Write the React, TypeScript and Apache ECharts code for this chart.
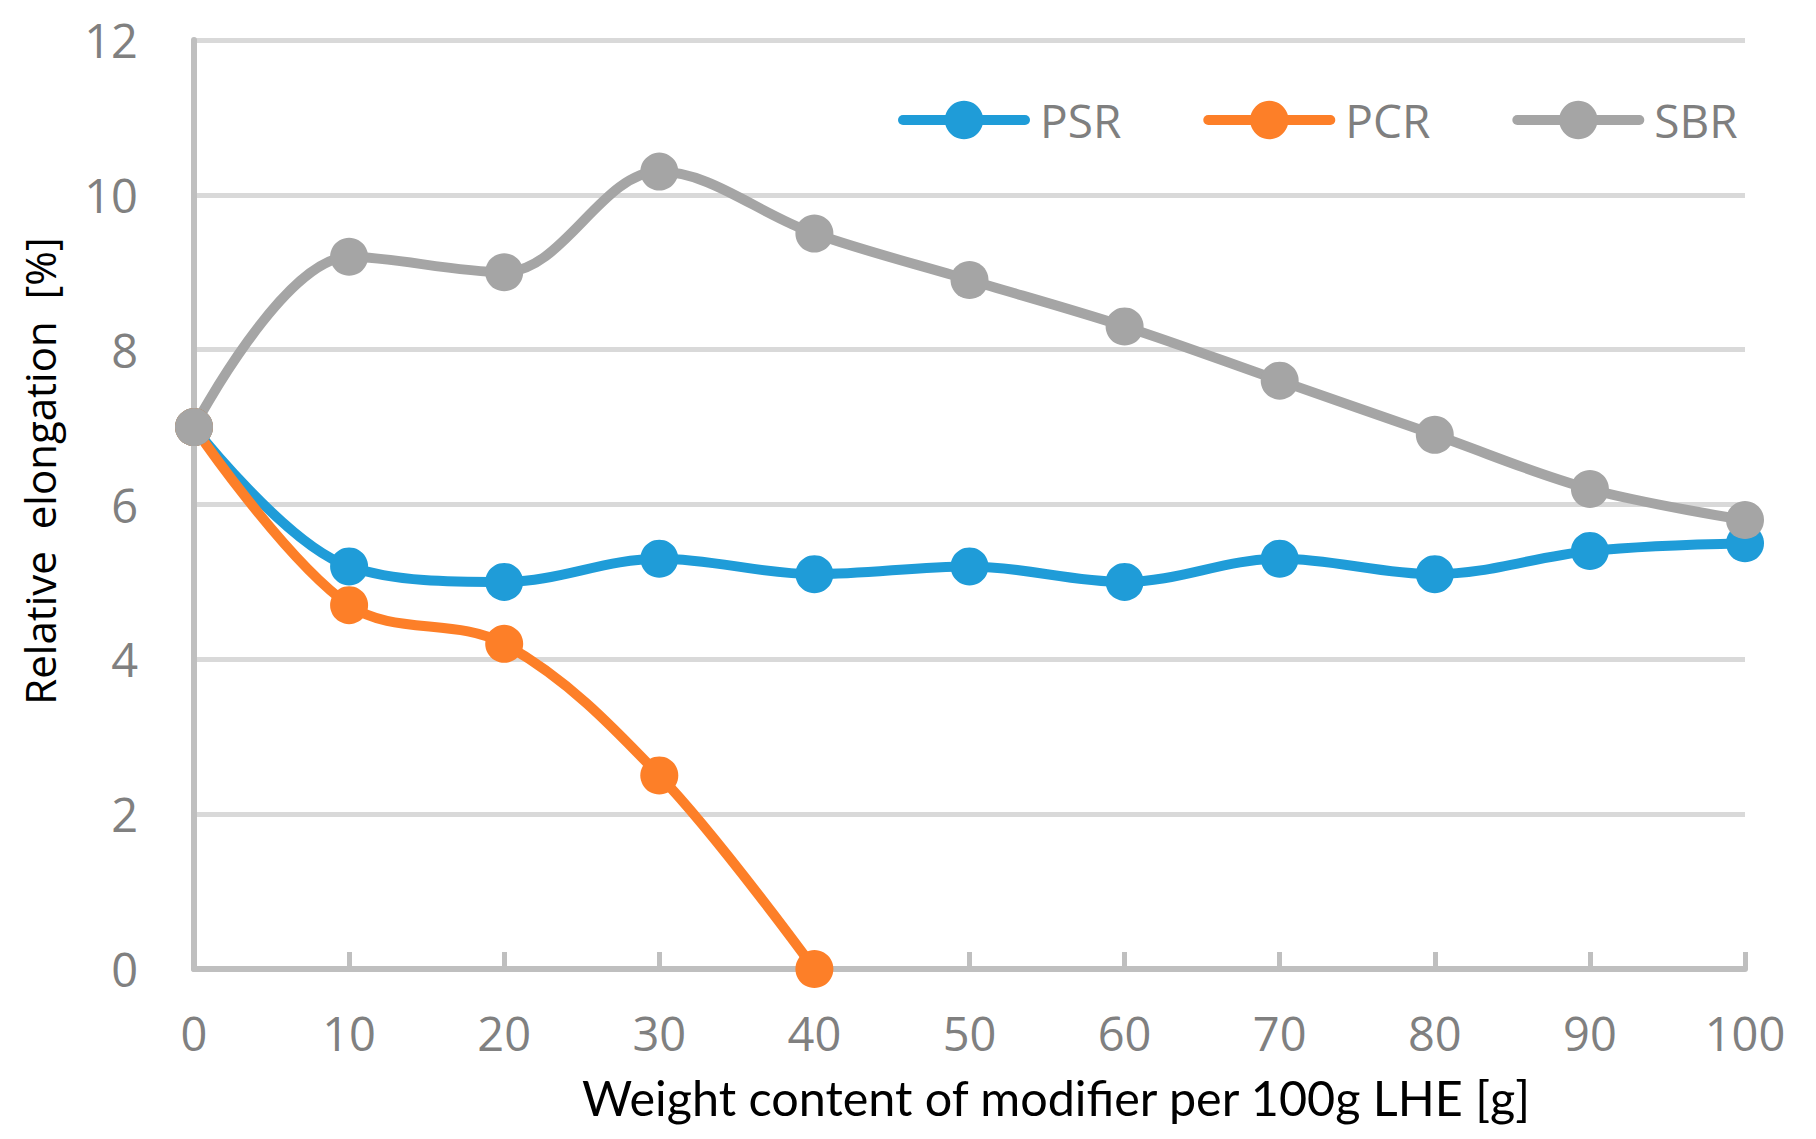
import React, { useEffect, useRef } from "react";
import * as echarts from "echarts";

const xValues = [0, 10, 20, 30, 40, 50, 60, 70, 80, 90, 100];
const psr = [7.0, 5.2, 5.0, 5.3, 5.1, 5.2, 5.0, 5.3, 5.1, 5.4, 5.5];
const pcr = [7.0, 4.7, 4.2, 2.5, 0.0];
const sbr = [7.0, 9.2, 9.0, 10.3, 9.5, 8.9, 8.3, 7.6, 6.9, 6.2, 5.8];
const seriesNames = ["PSR", "PCR", "SBR"];
const xTitle = "Weight content of modifier per 100g LHE [g]";
const yTitle = "Relative  elongation  [%]";

const colors = ["#1F9CD8", "#FD7F28", "#A5A5A5"];

export default function App() {
  const ref = useRef<HTMLDivElement>(null);
  useEffect(() => {
    if (!ref.current) return;
    const chart = echarts.init(ref.current, undefined, { renderer: "svg" });
    const mk = (name: string, vals: number[], color: string) => ({
      name,
      type: "line",
      data: vals.map((v, i) => [xValues[i], v]),
      smooth: 0.35,
      symbol: "circle",
      symbolSize: 38,
      lineStyle: { color, width: 10 },
      itemStyle: { color },
      z: 3,
    });
    chart.setOption({
      animation: false,
      backgroundColor: "#ffffff",
      grid: { left: 194, right: 71, top: 40, bottom: 170 },
      legend: {
        data: seriesNames,
        left: 893,
        top: 92,
        itemWidth: 122,
        itemHeight: 48,
        itemGap: 82,
        lineStyle: { width: 10, cap: "round" },
        formatter: (name: string) => "{t|" + name + "}",
        textStyle: {
          fontFamily: "Open Sans",
          fontSize: 46,
          color: "#7F7F7F",
          rich: {
            t: {
              fontFamily: "Open Sans",
              fontSize: 46,
              color: "#7F7F7F",
              padding: [0, 0, 0, 10],
            },
          },
        },
      },
      xAxis: {
        type: "value",
        min: 0,
        max: 100,
        interval: 10,
        axisLine: { show: true, lineStyle: { color: "#BFBFBF", width: 6 } },
        axisTick: { show: true, inside: true, length: 17, lineStyle: { color: "#BFBFBF", width: 5 } },
        splitLine: { show: false },
        axisLabel: {
          fontFamily: "Open Sans",
          fontSize: 47,
          color: "#808080",
          margin: 40,
        },
      },
      yAxis: {
        type: "value",
        min: 0,
        max: 12,
        interval: 2,
        axisLine: { show: true, lineStyle: { color: "#BFBFBF", width: 6 } },
        axisTick: { show: false },
        splitLine: { show: true, lineStyle: { color: "#D9D9D9", width: 5 } },
        axisLabel: {
          fontFamily: "Open Sans",
          fontSize: 47,
          color: "#808080",
          margin: 56,
        },
      },
      graphic: [
        {
          type: "text",
          left: 582,
          top: 1072,
          style: {
            text: xTitle,
            fontFamily: "Lato",
            fontSize: 48.5,
            fill: "#000000",
          },
        },
        {
          type: "text",
          x: 39,
          y: 471,
          rotation: Math.PI / 2,
          style: {
            text: yTitle,
            fontFamily: "Open Sans",
            fontSize: 42,
            fill: "#000000",
            align: "center",
            verticalAlign: "middle",
          },
        },
      ],
      series: [
        mk(seriesNames[0], psr, colors[0]),
        mk(seriesNames[1], pcr, colors[1]),
        mk(seriesNames[2], sbr, colors[2]),
      ],
    });
    return () => chart.dispose();
  }, []);
  return (
    <div
      ref={ref}
      style={{ position: "fixed", left: 0, top: 0, width: 1816, height: 1139 }}
    />
  );
}
